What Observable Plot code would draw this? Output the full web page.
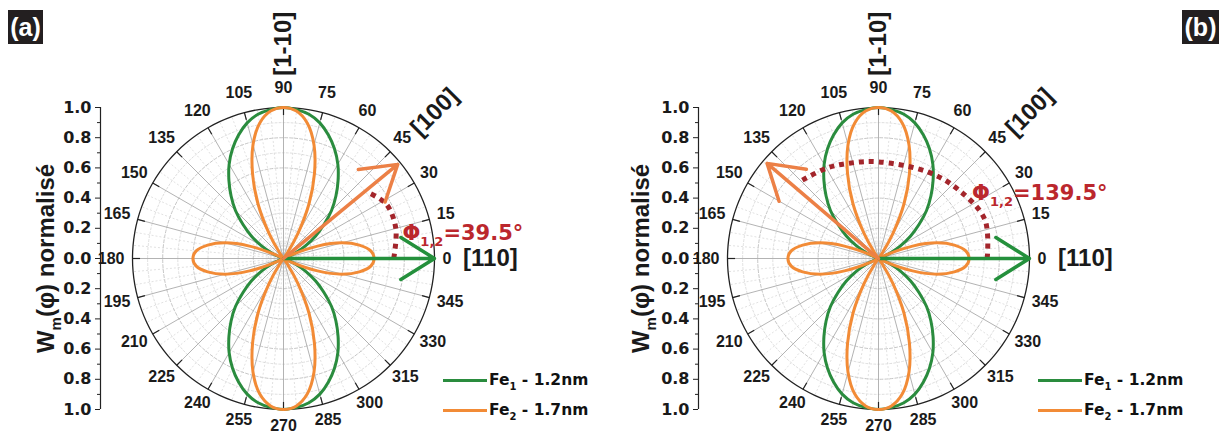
<!DOCTYPE html>
<html><head><meta charset="utf-8">
<script src="https://cdn.jsdelivr.net/npm/d3@7"></script>
<script src="https://cdn.jsdelivr.net/npm/@observablehq/plot@0.6"></script>
<style>
body{margin:0;background:#fff;}
#wrap{position:relative;width:1219px;height:434px;overflow:hidden;background:#fff;}
#wrap svg{position:absolute;top:0;}
.tag{position:absolute;top:10px;height:34px;background:#231f20;color:#fff;font:bold 25px "Liberation Sans",Arial,sans-serif;line-height:34px;text-align:center;}
.legend{position:absolute;top:365px;font:bold 15.5px "DejaVu Sans",sans-serif;color:#111;}
.legend .row{height:30px;display:flex;align-items:center;white-space:nowrap;}
.legend .sw{display:inline-block;width:44px;height:3px;margin-right:2px;}
.legend sub{font-size:10px;vertical-align:-5px;line-height:0;}
</style></head><body><div id="wrap"></div>
<script>
// ---------- data ----------
const quadrantAngles = [0,5,10,15,20,25,30,35,40,45,50,55,60,65,70,75,80,85,90];
const fe1Values = [0,0,0,0,0.02,0.09,0.17,0.26,0.35,0.45,0.54,0.63,0.72,0.80,0.87,0.93,0.97,0.99,1.00];
const fe2Values = [0.60,0.58,0.51,0.40,0.24,0.06,0,0,0,0,0,0.04,0.19,0.40,0.60,0.78,0.91,0.98,1.00];
const seriesNames = ["Fe_{1} - 1.2nm", "Fe_{2} - 1.7nm"];
const seriesColors = ["#2a8c3e", "#f28b36"];
const angleTicks = [0,15,30,45,60,75,90,105,120,135,150,165,180,195,210,225,240,255,270,285,300,315,330,345];
const radialMajor = [-1,-0.8,-0.6,-0.4,-0.2,0,0.2,0.4,0.6,0.8,1];
const radialMinor = [-0.9,-0.7,-0.5,-0.3,-0.1,0.1,0.3,0.5,0.7,0.9];
const gridRadii = [0.1,0.2,0.3,0.4,0.5,0.6,0.7,0.8,0.9];
const phiValues = [39.5, 139.5];
const phiLabels = ["Φ_{1,2}=39.5°", "Φ_{1,2}=139.5°"];
const orangeArrowLength = [0.98, 0.97];
const greenArrowLength = [1.0, 1.0];
const arcAngles = [[0, 15, 28, 38], [0, 20, 40, 60, 90, 107, 120, 136]];
const arcRadii = [[0.73, 0.77, 0.77, 0.71], [0.72, 0.75, 0.70, 0.66, 0.64, 0.66, 0.69, 0.73]];
const directionLabels = ["[1-10]", "[100]", "[110]"];
const panelTags = ["(a)", "(b)"];
const yTitle = "W_{m}(φ) normalisé";

// ---------- helpers ----------
const rad = a => a * Math.PI / 180;
const fullAngles = [0, 90, 180, 270].flatMap(b => quadrantAngles.slice(0, -1).map(a => b + a));
function fold(a) { let t = a % 180; if (t > 90) t = 180 - t; return quadrantAngles.indexOf(t); }
function curvePoints(vals, name) {
  return fullAngles.map(a => { const r = vals[fold(a)]; return {name, x: r * Math.cos(rad(a)), y: r * Math.sin(rad(a))}; });
}
const curves = [...curvePoints(fe1Values, seriesNames[0]), ...curvePoints(fe2Values, seriesNames[1])];
const circlePts = [];
gridRadii.forEach((r, i) => fullAngles.forEach(a => circlePts.push({r, major: (i % 2 === 1), x: r * Math.cos(rad(a)), y: r * Math.sin(rad(a))})));
const outerPts = fullAngles.map(a => ({x: Math.cos(rad(a)), y: Math.sin(rad(a))}));
const minorSpokes = fullAngles.filter(a => a % 15 !== 0);

const ARIAL = '"Liberation Sans", Arial, sans-serif';
const DEJAVU = '"DejaVu Sans", sans-serif';
const L = {R: 151, cx: 283, cy: 258, H: 434, gapX: 8, gapTop: 20, gapBottom: 16, charW: 8.9};
const panels = [
  {width: 595, left: 0, marginLeft: 100, phiPos: [0.788, 0.168]},
  {width: 624, left: 595, marginLeft: 103, phiPos: [0.62, 0.435]}
];
// angle label placement: keep a fixed gap between the outer circle and each label box
const labelX = a => (L.R + L.gapX + String(a).length * L.charW / 2) / L.R * Math.cos(rad(a));
const labelY = a => { const s = Math.sin(rad(a)); return (L.R + (s < 0 ? L.gapBottom : L.gapTop)) / L.R * s; };

function makePanel(p, k) {
  const xDomain = [(p.marginLeft - L.cx) / L.R, (p.width - L.cx) / L.R];
  const yDomain = [-(L.H - L.cy) / L.R, L.cy / L.R];
  const phi = phiValues[k];
  const arc = arcAngles[k].map((a, i) => ({x: arcRadii[k][i] * Math.cos(rad(a)), y: arcRadii[k][i] * Math.sin(rad(a))}));
  const plot = Plot.plot({
    width: p.width, height: L.H,
    marginLeft: p.marginLeft, marginRight: 0, marginTop: 0, marginBottom: 0,
    x: {domain: xDomain, axis: null, label: null},
    y: {domain: yDomain, label: null},
    color: {domain: seriesNames, range: seriesColors},
    style: {background: "transparent", overflow: "visible"},
    marks: [
      // grid circles
      Plot.line(circlePts.filter(d => !d.major), {x: "x", y: "y", z: "r", curve: "catmull-rom-closed", stroke: "#d6d6d6", strokeWidth: 0.8, strokeDasharray: "2,2"}),
      Plot.line(circlePts.filter(d => d.major), {x: "x", y: "y", z: "r", curve: "catmull-rom-closed", stroke: "#b8b8b8", strokeWidth: 0.8, strokeDasharray: "3,2"}),
      // spokes
      Plot.link(minorSpokes, {x1: () => 0, y1: () => 0, x2: a => Math.cos(rad(a)), y2: a => Math.sin(rad(a)), stroke: "#d4d4d4", strokeWidth: 0.7, strokeDasharray: "2,2"}),
      Plot.link(angleTicks, {x1: () => 0, y1: () => 0, x2: a => Math.cos(rad(a)), y2: a => Math.sin(rad(a)), stroke: "#a0a0a0", strokeWidth: 0.8}),
      // outer circle + ticks
      Plot.line(outerPts, {x: "x", y: "y", curve: "catmull-rom-closed", stroke: "#222", strokeWidth: 1.3}),
      Plot.link(angleTicks, {x1: a => Math.cos(rad(a)), y1: a => Math.sin(rad(a)), x2: a => 0.95 * Math.cos(rad(a)), y2: a => 0.95 * Math.sin(rad(a)), stroke: "#222", strokeWidth: 1.2}),
      // left radial axis
      Plot.ruleX([xDomain[0]], {y1: -1, y2: 1, stroke: "#222", strokeWidth: 1.2}),
      Plot.axisY(radialMinor, {anchor: "left", label: null, tickSize: 3, tickFormat: () => "", stroke: "#222"}),
      Plot.axisY(radialMajor, {anchor: "left", label: null, tickSize: 5, tickPadding: 4, tickFormat: d => Math.abs(d).toFixed(1), fontSize: 16, fontWeight: "bold", fontFamily: DEJAVU, fill: "#1a1a1a", stroke: "#222"}),
      // data curves
      Plot.line(curves, {x: "x", y: "y", z: "name", stroke: "name", strokeWidth: 3, curve: "catmull-rom-closed"}),
      // angle arc (dotted)
      Plot.line(arc, {x: "x", y: "y", curve: "catmull-rom", stroke: "#a3252b", strokeWidth: 5, strokeDasharray: "5,5", strokeLinecap: "butt"}),
      // arrows
      Plot.arrow([0], {x1: () => 0, y1: () => 0, x2: () => greenArrowLength[k], y2: () => 0, stroke: "#24903c", strokeWidth: 3.5, headLength: 17, headAngle: 64}),
      Plot.arrow([phi], {x1: () => 0, y1: () => 0, x2: a => orangeArrowLength[k] * Math.cos(rad(a)), y2: a => orangeArrowLength[k] * Math.sin(rad(a)), stroke: "#ec8046", strokeWidth: 3.5, headLength: 17, headAngle: 64}),
      // angle labels
      Plot.text(angleTicks, {x: labelX, y: labelY, text: a => String(a), fontSize: 16, fontWeight: "bold", fontFamily: ARIAL, fill: "#1a1a1a"}),
      // direction labels
      Plot.text([directionLabels[0]], {x: () => 0, y: () => 1.422, text: d => d, rotate: -90, fontSize: 24, fontWeight: "bold", fontFamily: ARIAL, fill: "#1a1a1a"}),
      Plot.text([directionLabels[1]], {x: () => 1.0, y: () => 0.97, text: d => d, rotate: -45, fontSize: 24, fontWeight: "bold", fontFamily: ARIAL, fill: "#1a1a1a"}),
      Plot.text([directionLabels[2]], {x: () => 1.37, y: () => 0, text: d => d, fontSize: 24, fontWeight: "bold", fontFamily: ARIAL, fill: "#1a1a1a"}),
      // phi label
      Plot.text([phiLabels[k]], {x: () => p.phiPos[0], y: () => p.phiPos[1], text: d => d, textAnchor: "start", fontSize: 21, fontWeight: "bold", fontFamily: DEJAVU, fill: "#bb272d"}),
      // y title
      Plot.text([yTitle], {x: () => -1.57, y: () => 0, text: d => d, rotate: -90, fontSize: 24, fontWeight: "bold", fontFamily: ARIAL, fill: "#1a1a1a"})
    ]
  });
  plot.style.left = p.left + "px";
  // subscripts: turn "A_{B}C" into tspans
  d3.select(plot).selectAll("text").each(function () {
    const s = this.textContent; const m = s.match(/^(.*)_\{(.*)\}(.*)$/); if (!m) return;
    const fs = parseFloat(d3.select(this.closest("g")).attr("font-size")) || 21;
    const subSize = Math.round(fs * 0.62), shift = Math.round(fs * 0.3);
    const t = d3.select(this); t.text(null);
    t.append("tspan").text(m[1]);
    t.append("tspan").attr("font-size", subSize).attr("dy", shift).text(m[2]);
    t.append("tspan").attr("dy", -shift).text(m[3]);
  });
  return plot;
}

const wrap = document.getElementById("wrap");
panels.forEach((p, k) => {
  wrap.appendChild(makePanel(p, k));
  const tag = document.createElement("div");
  tag.className = "tag"; tag.textContent = panelTags[k];
  tag.style.left = (k === 0 ? 8 : 1182) + "px"; tag.style.width = (k === 0 ? 35 : 37) + "px";
  wrap.appendChild(tag);
  const lg = document.createElement("div");
  lg.className = "legend"; lg.style.left = (p.left + L.cx + 160) + "px";
  seriesNames.forEach((n, i) => {
    const m = n.match(/^(.*)_\{(.*)\}(.*)$/);
    const row = document.createElement("div"); row.className = "row";
    row.innerHTML = `<span class="sw" style="background:${seriesColors[i]}"></span><span>${m[1]}<sub>${m[2]}</sub>${m[3]}</span>`;
    lg.appendChild(row);
  });
  wrap.appendChild(lg);
});
</script></body></html>
